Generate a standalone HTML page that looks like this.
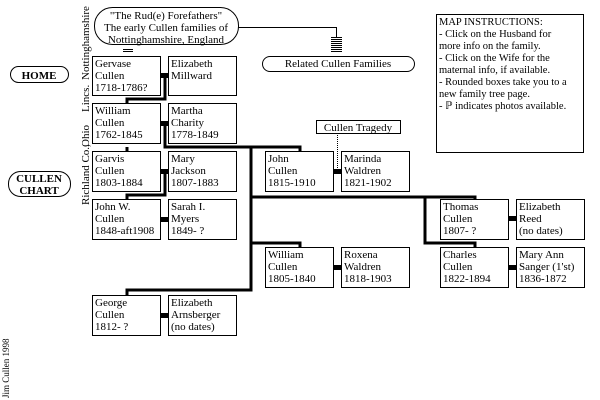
<!DOCTYPE html>
<html><head><meta charset="utf-8"><style>
body{margin:0;background:#fff;}
svg{display:block;font-family:"Liberation Serif",serif;font-size:11px;}
</style></head><body>
<svg width="600" height="400" viewBox="0 0 600 400" xmlns="http://www.w3.org/2000/svg">
<g fill="none" stroke="#000" stroke-width="3">
<path d="M165 78V99H127V103"/>
<path d="M165 126V147H300V151"/>
<path d="M127 147V151"/>
<path d="M165 174V195H127V199"/>
<path d="M251 147V290H127V295"/>
<path d="M251 197H475V199"/>
<path d="M425 197V243H475V247"/>
<path d="M251 243H300V247"/>
</g>
<g fill="none" stroke="#000" stroke-width="1">
<path d="M238 27.5H336.5V37"/>
<path d="M337.5 133V171" stroke-dasharray="1,1"/>
</g>
<g fill="#000">
<rect x="161" y="73" width="7" height="5"/>
<rect x="161" y="121" width="7" height="5"/>
<rect x="161" y="169" width="7" height="5"/>
<rect x="161" y="217" width="7" height="5"/>
<rect x="161" y="313" width="7" height="5"/>
<rect x="333" y="169" width="8" height="5"/>
<rect x="508" y="216" width="8" height="5"/>
<rect x="333" y="265" width="8" height="5"/>
<rect x="508" y="265" width="8" height="5"/>
</g>
<g stroke="#000" stroke-width="1" shape-rendering="crispEdges">
<path d="M331 37.5h11M331 39.5h11M331 41.5h11M331 43.5h11M331 45.5h11M331 47.5h11M331 49.5h11M331 51.5h11"/>
<path d="M123 49.5h10M123 51.5h10"/>
</g>
<g fill="#fff" stroke="#000" stroke-width="1">
<rect x="92.5" y="56.5" width="68" height="39"/>
<rect x="168.5" y="56.5" width="68" height="39"/>
<rect x="92.5" y="103.5" width="68" height="40"/>
<rect x="168.5" y="103.5" width="68" height="40"/>
<rect x="92.5" y="151.5" width="68" height="40"/>
<rect x="168.5" y="151.5" width="68" height="40"/>
<rect x="92.5" y="199.5" width="68" height="40"/>
<rect x="168.5" y="199.5" width="68" height="40"/>
<rect x="92.5" y="295.5" width="68" height="40"/>
<rect x="168.5" y="295.5" width="68" height="40"/>
<rect x="265.5" y="151.5" width="68" height="40"/>
<rect x="341.5" y="151.5" width="68" height="40"/>
<rect x="316.5" y="120.5" width="84" height="13"/>
<rect x="440.5" y="199.5" width="68" height="40"/>
<rect x="516.5" y="199.5" width="68" height="40"/>
<rect x="265.5" y="247.5" width="68" height="40"/>
<rect x="341.5" y="247.5" width="68" height="40"/>
<rect x="440.5" y="247.5" width="68" height="40"/>
<rect x="516.5" y="247.5" width="68" height="40"/>
<rect x="436.5" y="14.5" width="147" height="138"/>
<rect x="94.5" y="7.5" width="144" height="37" rx="18"/>
<rect x="262.5" y="56.5" width="152" height="15" rx="7.5"/>
<rect x="10.5" y="66.5" width="58" height="16" rx="8"/>
<rect x="8.5" y="171.5" width="62" height="25" rx="12"/>
</g>
<g fill="#000">
<text x="166" y="19" text-anchor="middle">"The Rud(e) Forefathers"</text>
<text x="166" y="31" text-anchor="middle">The early Cullen families of</text>
<text x="166" y="43" text-anchor="middle">Nottinghamshire, England</text>
<text x="338" y="67" text-anchor="middle">Related Cullen Families</text>
<text x="358" y="131" text-anchor="middle">Cullen Tragedy</text>
<text x="39" y="79" text-anchor="middle" font-weight="bold">HOME</text>
<text x="39" y="182" text-anchor="middle" font-weight="bold">CULLEN</text>
<text x="39" y="194" text-anchor="middle" font-weight="bold">CHART</text>
<g font-size="10.5">
<text x="439" y="25">MAP INSTRUCTIONS:</text>
<text x="439" y="37">- Click on the Husband for</text>
<text x="439" y="49">more info on the family.</text>
<text x="439" y="61">- Click on the Wife for the</text>
<text x="439" y="73">maternal info, if available.</text>
<text x="439" y="85">- Rounded boxes take you to a</text>
<text x="439" y="97">new family tree page.</text>
<text x="439" y="109">- ℙ indicates photos available.</text>
</g>
<text x="95" y="67">Gervase</text><text x="95" y="79">Cullen</text><text x="95" y="91">1718-1786?</text>
<text x="171" y="67">Elizabeth</text><text x="171" y="79">Millward</text>
<text x="95" y="114">William</text><text x="95" y="126">Cullen</text><text x="95" y="138">1762-1845</text>
<text x="171" y="114">Martha</text><text x="171" y="126">Charity</text><text x="171" y="138">1778-1849</text>
<text x="95" y="162">Garvis</text><text x="95" y="174">Cullen</text><text x="95" y="186">1803-1884</text>
<text x="171" y="162">Mary</text><text x="171" y="174">Jackson</text><text x="171" y="186">1807-1883</text>
<text x="95" y="210">John W.</text><text x="95" y="222">Cullen</text><text x="95" y="234">1848-aft1908</text>
<text x="171" y="210">Sarah I.</text><text x="171" y="222">Myers</text><text x="171" y="234">1849- ?</text>
<text x="95" y="306">George</text><text x="95" y="318">Cullen</text><text x="95" y="330">1812- ?</text>
<text x="171" y="306">Elizabeth</text><text x="171" y="318">Arnsberger</text><text x="171" y="330">(no dates)</text>
<text x="268" y="162">John</text><text x="268" y="174">Cullen</text><text x="268" y="186">1815-1910</text>
<text x="344" y="162">Marinda</text><text x="344" y="174">Waldren</text><text x="344" y="186">1821-1902</text>
<text x="443" y="210">Thomas</text><text x="443" y="222">Cullen</text><text x="443" y="234">1807- ?</text>
<text x="519" y="210">Elizabeth</text><text x="519" y="222">Reed</text><text x="519" y="234">(no dates)</text>
<text x="268" y="258">William</text><text x="268" y="270">Cullen</text><text x="268" y="282">1805-1840</text>
<text x="344" y="258">Roxena</text><text x="344" y="270">Waldren</text><text x="344" y="282">1818-1903</text>
<text x="443" y="258">Charles</text><text x="443" y="270">Cullen</text><text x="443" y="282">1822-1894</text>
<text x="519" y="258">Mary Ann</text><text x="519" y="270">Sanger (1'st)</text><text x="519" y="282">1836-1872</text>
<text transform="translate(89,80) rotate(-90)">Nottinghamshire</text>
<text transform="translate(89,112) rotate(-90)">Lincs.</text>
<text transform="translate(89,147) rotate(-90)">Ohio</text>
<text transform="translate(89,205) rotate(-90)">Richland Co.,</text>
<text transform="translate(9,398) rotate(-90)" font-size="9">Jim Cullen 1998</text>
</g>
</svg>
</body></html>
